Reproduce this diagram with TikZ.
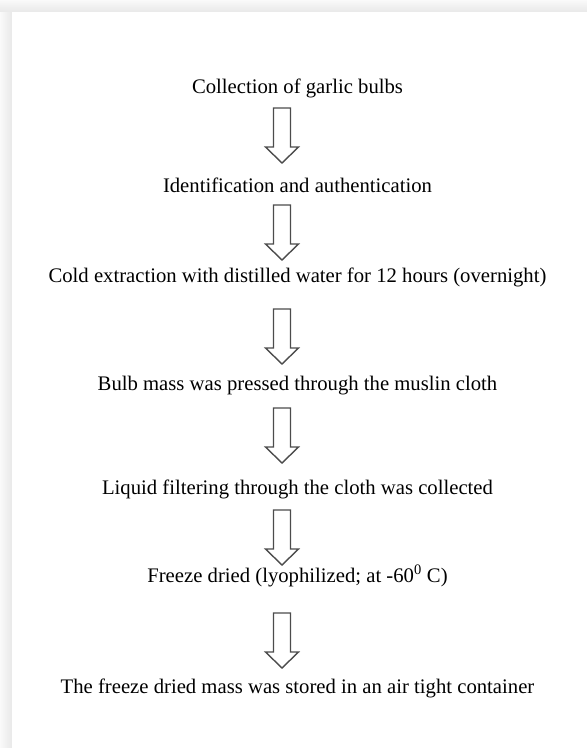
\documentclass[tikz,border=0pt]{standalone}
\usepackage{fontspec}
\setmainfont{Liberation Serif}
\usetikzlibrary{positioning,calc}

\tikzset{
  steptext/.style={anchor=base, inner sep=0pt, font=\fontsize{20.7}{24}\selectfont},
  hollowarrow/.style={draw=black!70, line width=1.4pt, fill=white, line join=miter},
}

\begin{document}
\begin{tikzpicture}[x=1pt, y=-1pt]
\useasboundingbox (0,0) rectangle (587,748);
% page with its shadow
\shade[top color=gray!4, bottom color=gray!18] (0,0) rectangle (587,12);
\shade[left color=gray!4, right color=gray!18] (0,12) rectangle (12,748);
\fill[white] (12,12) rectangle (587,748);

% the steps
\node[steptext] (s1) at (297.5,93) {Collection of garlic bulbs};
\node[steptext] (s2) at (297.5,192) {Identification and authentication};
\node[steptext] (s3) at (297.5,282) {Cold extraction with distilled water for 12 hours (overnight)};
\node[steptext] (s4) at (297.5,390) {Bulb mass was pressed through the muslin cloth};
\node[steptext] (s5) at (297.5,494) {Liquid filtering through the cloth was collected};
\node[steptext] (s6) at (297.5,582) {Freeze dried (lyophilized; at -60\textsuperscript{0} C)};
\node[steptext] (s7) at (297.5,693) {The freeze dried mass was stored in an air tight container};

% hollow arrows between the steps
\foreach \i/\y in {1/108,2/205,3/309,4/408,5/510,6/613}{
  \coordinate (a\i) at (282,\y);
  \draw[hollowarrow, shift={(a\i)}] (-8.5,0) -- (8.5,0) -- (8.5,39) -- (16.5,39)
    -- (0,55) -- (-16.5,39) -- (-8.5,39) -- cycle;
}
\end{tikzpicture}
\end{document}
